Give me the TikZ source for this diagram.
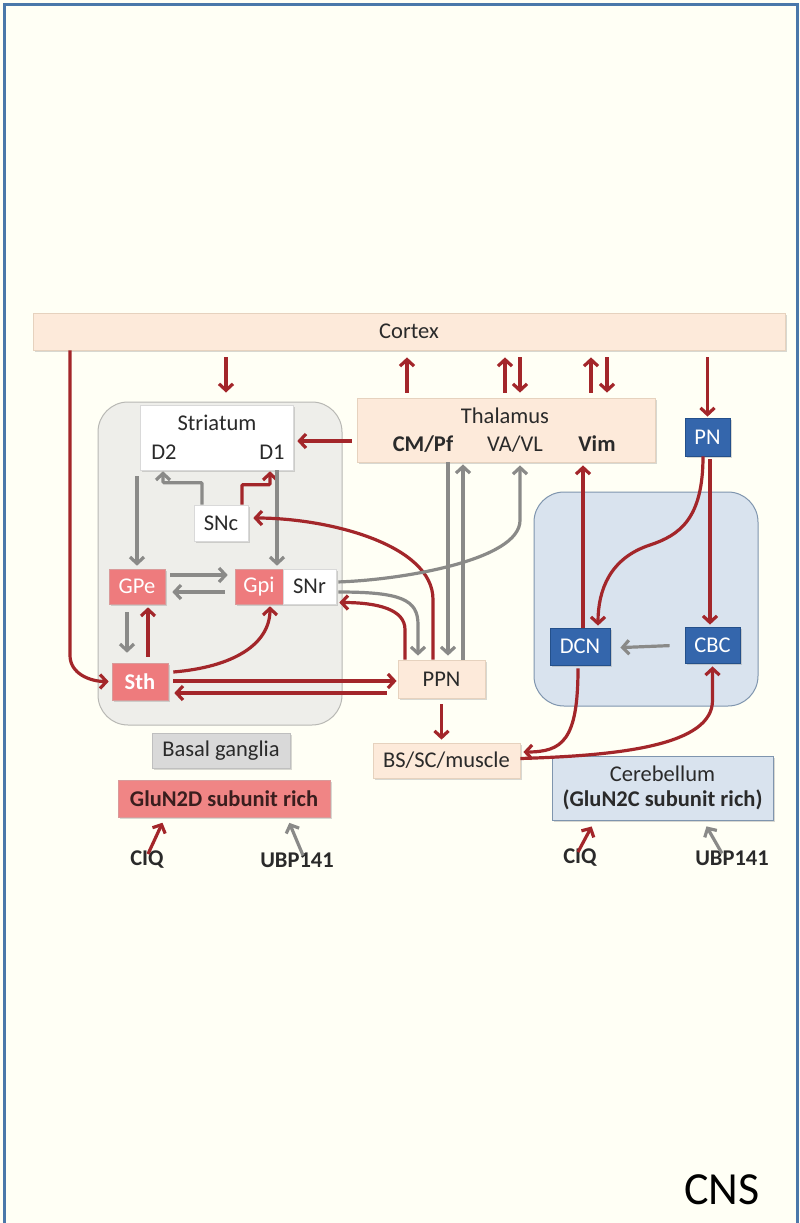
\documentclass[tikz,border=0pt]{standalone}
\usepackage{fontspec}
\setmainfont{Carlito}
\usetikzlibrary{arrows.meta,shadows}
\definecolor{bgc}{HTML}{FFFFF5}
\definecolor{framec}{HTML}{4A78AA}
\definecolor{peachc}{HTML}{FDEADA}
\definecolor{peachd}{HTML}{E6D2BE}
\definecolor{redc}{HTML}{A3262A}
\definecolor{grayc}{HTML}{8A8A88}
\definecolor{pinkc}{HTML}{EE7B7D}
\definecolor{pinkd}{HTML}{D99A9A}
\definecolor{blueb}{HTML}{3466AC}
\definecolor{blued}{HTML}{24508A}
\definecolor{bgreg}{HTML}{EEEEEA}
\definecolor{bgregd}{HTML}{B8B8B4}
\definecolor{cereg}{HTML}{D9E3EE}
\definecolor{ceregd}{HTML}{7F95AE}
\definecolor{txt}{HTML}{2A2A2A}
\definecolor{graylab}{HTML}{D9D9D9}
\definecolor{gluc}{HTML}{F08585}
\definecolor{glut}{HTML}{3A1E1E}
\newcommand{\fs}{\fontsize{22.5}{26}\selectfont}
\tikzset{
  base/.style={rectangle, inner sep=0pt, font=\fs, text=txt},
  shad/.style={drop shadow={shadow xshift=1.5pt, shadow yshift=-1.5pt, opacity=0.3}},
  peach/.style={base, shad, fill=peachc, draw=peachd, line width=0.8pt},
  whitebox/.style={base, shad, fill=white, draw=black!15, line width=0.6pt},
  pinkbox/.style={base, shad, fill=pinkc, draw=pinkd, line width=0.6pt, text=white},
  bluebox/.style={base, shad, fill=blueb, draw=blued, line width=0.8pt, text=white},
  region/.style={rectangle, rounded corners=30pt, line width=1pt},
  lbl/.style={inner sep=0pt, font=\fs, text=txt},
  blbl/.style={inner sep=0pt, font=\fs\bfseries, text=txt},
  tipstyle/.style={-{Straight Barb[length=6.5pt,width=14pt]}},
  redarr/.style={draw=redc, line width=3.2pt, tipstyle},
  grayarr/.style={draw=grayc, line width=3.2pt, tipstyle},
}
\begin{document}
\begin{tikzpicture}[x=1pt,y=-1pt]
\useasboundingbox (0,0) rectangle (800,1223);
\fill[bgc] (0,0) rectangle (800,1223);
\draw[framec, line width=3pt] (4.5,1230) -- (4.5,5) -- (797,5) -- (797,1230);

% regions
\node[region, fill=bgreg, draw=bgregd, minimum width=244pt, minimum height=323pt] (bgbox) at (220,563.5) {};
\node[region, fill=cereg, draw=ceregd, minimum width=224pt, minimum height=214pt] (cebox) at (646,599) {};

% boxes
\node[peach, minimum width=752pt, minimum height=37pt] (cortex) at (409,331.5) {Cortex};
\node[peach, minimum width=298pt, minimum height=64pt] (thal) at (506,430) {};
\node[lbl] (thalT) at (505,416) {Thalamus};
\node[blbl] (cmpf) at (423,444) {CM/Pf};
\node[lbl] (vavl) at (515,444) {VA/VL};
\node[blbl] (vim) at (597,444) {Vim};

\node[whitebox, minimum width=153pt, minimum height=65pt] (striatum) at (216.5,437.5) {};
\node[lbl] (strT) at (217,423) {Striatum};
\node[lbl] (d2) at (164,452) {D2};
\node[lbl] (d1) at (272,452) {D1};

\node[whitebox, minimum width=54pt, minimum height=36pt] (snc) at (221,523) {SNc};
\node[pinkbox, minimum width=56pt, minimum height=35pt] (gpe) at (137,586.5) {GPe};
\node[pinkbox, minimum width=48pt, minimum height=35pt] (gpi) at (259,586.5) {Gpi};
\node[whitebox, minimum width=53pt, minimum height=35pt] (snr) at (309.5,586.5) {SNr};
\node[pinkbox, minimum width=56pt, minimum height=37pt, font=\fs\bfseries] (sth) at (140,681.5) {Sth};
\node[peach, minimum width=87pt, minimum height=38pt] (ppn) at (441.5,679) {PPN};
\node[peach, minimum width=147pt, minimum height=35pt] (bs) at (446.5,760.5) {BS/SC/muscle};

\node[bluebox, minimum width=45pt, minimum height=38pt] (pn) at (707.5,437) {PN};
\node[bluebox, minimum width=60pt, minimum height=37pt] (dcn) at (580,646.5) {DCN};
\node[bluebox, minimum width=55pt, minimum height=36pt] (cbc) at (712.5,645) {CBC};

\node[base, shad, fill=graylab, draw=black!25, line width=0.6pt, minimum width=138pt, minimum height=35pt] (bglab) at (221,750.5) {Basal ganglia};
\node[base, shad, fill=gluc, draw=pinkd, line width=0.6pt, minimum width=212pt, minimum height=37pt, text=glut, font=\fs\bfseries] (glun2d) at (224,798.5) {GluN2D subunit rich};
\node[base, shad, fill=cereg, draw=ceregd, line width=0.6pt, minimum width=221pt, minimum height=64pt, align=center] (celab) at (662.5,788) {Cerebellum\\[-1pt]\textbf{(GluN2C subunit rich)}};

\node[blbl] (ciq1) at (147,860) {CIQ};
\node[blbl] (ubp1) at (297,860) {UBP141};
\node[blbl] (ciq2) at (580,858) {CIQ};
\node[blbl] (ubp2) at (732,858) {UBP141};
\node[inner sep=0pt, font=\fontsize{46}{50}\selectfont, text=black] (cns) at (722,1190) {CNS};

% cortex coordinates
\path (cortex.south) ++(-183,0) coordinate (cA);
\path (cortex.south) ++(-2,0) coordinate (cB);
\path (cortex.south) ++(96,0) coordinate (cC);
\path (cortex.south) ++(111,0) coordinate (cD);
\path (cortex.south) ++(182,0) coordinate (cE);
\path (cortex.south) ++(198,0) coordinate (cF);
\path (cortex.south) ++(298.5,0) coordinate (cG);
\path (cortex.south) ++(-339,0) coordinate (cS);

\draw[redarr, shorten <=7pt, shorten >=9pt] (cA) -- (cA |- bgbox.north);
\draw[redarr, shorten <=5pt, shorten >=7pt] (cB |- thal.north) -- (cB);
\draw[redarr, shorten <=5pt, shorten >=7pt] (cC |- thal.north) -- (cC);
\draw[redarr, shorten <=7pt, shorten >=5pt] (cD) -- (cD |- thal.north);
\draw[redarr, shorten <=5pt, shorten >=7pt] (cE |- thal.north) -- (cE);
\draw[redarr, shorten <=7pt, shorten >=5pt] (cF) -- (cF |- thal.north);
\draw[redarr, shorten <=7pt, shorten >=1pt] (cG) -- (cG |- pn.north);
\draw[redarr, shorten >=3pt] (cS) -- ++(0,305) .. controls +(0,18) and +(-22,0) .. (sth.west);

% thalamus -> striatum
\draw[redarr, shorten <=5pt, shorten >=4pt] ([yshift=-11pt]thal.west) -- ([yshift=-3.5pt]striatum.east);

% striatum area
\draw[grayarr, rounded corners=1pt, shorten >=1pt] ([xshift=-19pt]snc.north) -- ++(0,-22) -| ([xshift=-53.5pt]striatum.south);
\draw[redarr, rounded corners=1pt, shorten >=1pt] ([xshift=21pt]snc.north) -- ++(0,-20) -| ([xshift=53.5pt]striatum.south);
\draw[grayarr, shorten <=6pt, shorten >=3pt] (gpe.north |- striatum.south) -- (gpe.north);
\draw[grayarr, shorten >=3pt] ([xshift=60.5pt]striatum.south) -- ([xshift=18pt]gpi.north);

% GPe / Gpi / Sth
\draw[grayarr, shorten <=5pt, shorten >=7pt] ([yshift=11.5pt]gpe.east) -- ([yshift=11.5pt]gpi.west);
\draw[grayarr, shorten <=10pt, shorten >=7pt] ([yshift=-5.5pt]gpi.west) -- ([yshift=-5.5pt]gpe.east);
\draw[grayarr, shorten <=8pt, shorten >=10pt] ([xshift=-10pt]gpe.south) -- ([xshift=-13pt]sth.north);
\draw[redarr, shorten <=6pt, shorten >=3pt] ([xshift=8pt]sth.north) -- ([xshift=11pt]gpe.south);
\draw[redarr, shorten >=2pt] ([shift={(5pt,9.5pt)}]sth.east) .. controls +(60,-5) and +(0,40) .. ([xshift=11pt]gpi.south);
\draw[redarr, shorten <=5pt, shorten >=1pt] ([yshift=0.5pt]sth.east) -- ([yshift=-2pt]ppn.west);
\draw[redarr, shorten <=11pt, shorten >=6pt] ([yshift=-14pt]ppn.west) -- ([yshift=-11.5pt]sth.east);

% PPN top connectors
\draw[redarr, shorten >=1pt] ([xshift=-36.5pt]ppn.north) -- ++(0,-30) .. controls +(0,-20) and +(40,0) .. ([shift={(2pt,-16pt)}]snr.east);
\draw[grayarr, shorten <=2pt, shorten >=4pt] ([yshift=-5.5pt]snr.east) .. controls +(65,0) and +(0,-25) .. ([shift={(-23.5pt,35pt)}]ppn.north) -- ([xshift=-23.5pt]ppn.north);
\draw[redarr, shorten >=5pt] ([xshift=-8.5pt]ppn.north) -- ++(0,-60) .. controls +(0,-55) and +(80,0) .. ([yshift=5pt]snc.east);
\draw[grayarr, shorten >=4pt] ([xshift=-58pt]thal.south) -- ([xshift=6.5pt]ppn.north);
\draw[grayarr, shorten >=2pt] ([xshift=21.5pt]ppn.north) -- ([xshift=-43pt]thal.south);
\draw[grayarr, shorten <=2pt, shorten >=3pt] ([yshift=4.5pt]snr.east) .. controls +(64,-2) and +(0,40) .. ([shift={(14pt,-58pt)}]thal.south) -- ([xshift=14pt]thal.south);
\draw[redarr, shorten <=6pt, shorten >=3pt] (ppn.south) -- (ppn.south |- bs.north);

% cerebellum
\draw[redarr, shorten >=2pt] ([xshift=-4.5pt]pn.south) .. controls +(0,62) and (680,535) .. (650,545) .. controls (610,558) and (598,590) .. ([xshift=18pt]dcn.north);
\draw[redarr, shorten <=3pt, shorten >=2pt] ([xshift=2.5pt]pn.south) -- ([xshift=-2.5pt]cbc.north);
\draw[grayarr, shorten <=15pt, shorten >=10pt] (cbc.west) -- ([yshift=-1.5pt]dcn.east);
\draw[redarr, shorten >=3pt] ([xshift=3pt]dcn.north) -- ([xshift=77pt]thal.south);
\draw[redarr, shorten <=3pt, shorten >=1pt] ([xshift=-2pt]dcn.south) .. controls +(0,75) and +(40,0) .. ([shift={(2pt,8.5pt)}]bs.east);
\draw[redarr, shorten >=3pt] ([yshift=2pt]bs.east) .. controls +(100,-3) and +(0,45) .. ([yshift=-37pt]cbc.south) -- (cbc.south);

% drug arrows
\draw[redarr, shorten >=6pt] ([shift={(1pt,-3pt)}]ciq1.north) -- ([xshift=-59pt]glun2d.south);
\draw[grayarr, shorten >=6pt] ([shift={(6pt,-3pt)}]ubp1.north) -- ([xshift=63pt]glun2d.south);
\draw[redarr, shorten >=7pt] ([shift={(-2pt,-3pt)}]ciq2.north) -- ([xshift=-67.5pt]celab.south);
\draw[grayarr, shorten >=7pt] ([shift={(-10pt,-3pt)}]ubp2.north) -- ([xshift=40.5pt]celab.south);
\end{tikzpicture}
\end{document}
